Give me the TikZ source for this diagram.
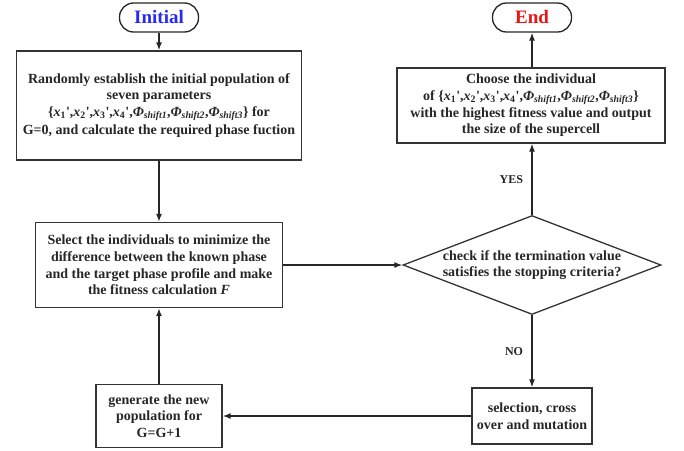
\documentclass[tikz,border=0pt]{standalone}
\usepackage{fontspec}
\setmainfont{Liberation Serif}
\usetikzlibrary{arrows.meta}
\usetikzlibrary{shapes.geometric}
\definecolor{initblue}{RGB}{40,40,240}
\definecolor{endred}{RGB}{235,20,20}
\newcommand{\parlist}{\{\textit{x}\textsubscript{1}\textquotesingle,\textit{x}\textsubscript{2}\textquotesingle,\textit{x}\textsubscript{3}\textquotesingle,\textit{x}\textsubscript{4}\textquotesingle,\textit{Φ}\textsubscript{\itshape shift1},\textit{Φ}\textsubscript{\itshape shift2},\textit{Φ}\textsubscript{\itshape shift3}\}}

\begin{document}
\begin{tikzpicture}[x=1pt, y=-1pt,
    box/.style={draw=black!80, line width=1.3pt, align=center, inner sep=0pt, text=black!85,
      font=\fontsize{14}{16.6}\selectfont\bfseries},
    term/.style={draw=black!85, line width=1.3pt, rounded corners=14pt, minimum width=79pt, minimum height=29pt,
      inner sep=0pt, font=\fontsize{19}{21}\selectfont\bfseries},
    decision/.style={diamond, draw=black!80, line width=1.3pt, aspect=2.6, inner sep=0pt, align=center,
      minimum width=258pt, minimum height=99pt, text=black!85, font=\fontsize{14}{16.6}\selectfont\bfseries},
    flow/.style={-{Latex[length=8pt,width=6pt]}, draw=black!85, line width=1.3pt},
    tag/.style={font=\fontsize{12}{14}\selectfont\bfseries, text=black!85}]
  \useasboundingbox (0,0) rectangle (684,450);

  \node[term, text=initblue] (init) at (159,17.5) {Initial};
  \node[term, text=endred] (finish) at (532,17.5) {End};

  \node[box, minimum width=285pt, minimum height=109pt] (setup) at (159,105.5)
    {Randomly establish the initial population of\\ seven parameters\\ \parlist{} for\\[2pt] G=0, and calculate the required phase fuction};
  \node[box, minimum width=247pt, minimum height=85pt] (select) at (159,265)
    {Select the individuals to minimize the\\ difference between the known phase\\ and the target phase profile and make\\ the fitness calculation \textit{F}};
  \node[decision] (check) at (532,265)
    {check if the termination value\\ satisfies the stopping criteria?};
  \node[box, minimum width=268pt, minimum height=75pt] (choose) at (531,105.5)
    {Choose the individual\\ of \parlist\\ with the highest fitness value and output\\ the size of the supercell};
  \node[box, minimum width=120pt, minimum height=56pt] (mutate) at (532,416)
    {selection, cross\\ over and mutation};
  \node[box, minimum width=126pt, minimum height=63pt] (newgen) at (159,416)
    {generate the new\\ population for\\ G=G+1};

  \draw[flow] (init) -- (setup);
  \draw[flow] (setup) -- (select);
  \draw[flow] (select) -- (check.west);
  \draw[flow] (check.north) -- node[tag, left=5pt] {YES} (check.north |- choose.south);
  \draw[flow] (choose.north -| finish) -- (finish);
  \draw[flow] (check.south) -- node[tag, left=5pt] {NO} (check.south |- mutate.north);
  \draw[flow] (mutate) -- (newgen);
  \draw[flow] (newgen) -- (select);
\end{tikzpicture}
\end{document}
